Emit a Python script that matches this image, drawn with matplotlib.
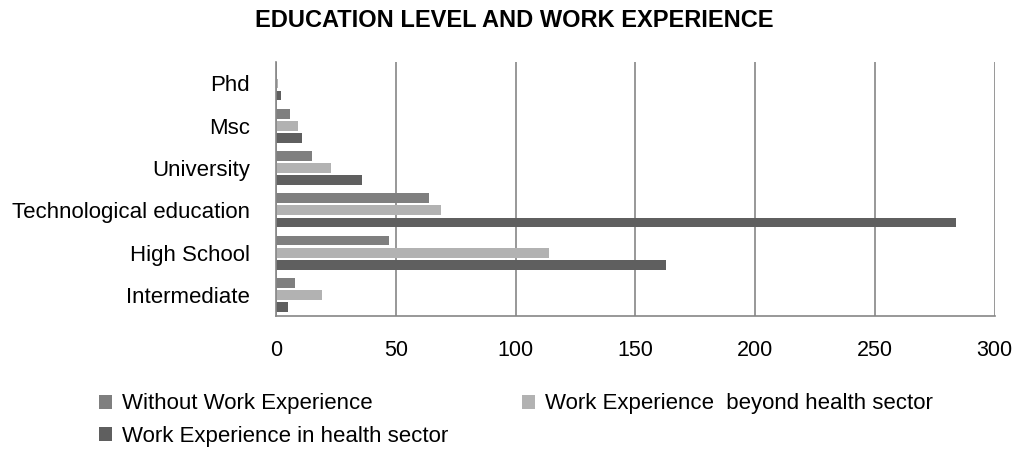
import numpy as np
import matplotlib.pyplot as plt

# education levels, listed bottom to top
levels = ["Intermediate", "High School", "Technological education", "University", "Msc", "Phd"]

without_exp = [8, 47, 64, 15, 6, 0]
beyond_health = [19, 114, 69, 23, 9, 1]
in_health = [5, 163, 284, 36, 11, 2]

series_names = ["Without Work Experience",
                "Work Experience  beyond health sector",
                "Work Experience in health sector"]
colors = ["#7f7f7f", "#b2b2b2", "#5f5f5f"]

plt.rcParams["font.family"] = ["Liberation Sans", "DejaVu Sans"]

fig = plt.figure(figsize=(10.28, 4.51), dpi=100)
ax = fig.add_axes([0.2685, 0.299, 0.699, 0.563])

y = np.arange(len(levels))
step = 0.285
bars = []
for offset, vals, c, name in zip([step, 0, -step], [without_exp, beyond_health, in_health], colors, series_names):
    bars.append(ax.barh(y + offset, vals, height=0.23, color=c, label=name))

ax.set_xlim(0, 300)
ax.set_ylim(-0.5, len(levels) - 0.5)
ax.set_xticks(np.arange(0, 301, 50))
ax.set_yticks(y)
ax.set_yticklabels(levels)
ax.tick_params(axis="both", length=0, labelsize=15.5, colors="black")
ax.tick_params(axis="y", labelsize=16)
ax.tick_params(axis="x", pad=17)
ax.tick_params(axis="y", pad=19)
ax.grid(axis="x", color="#868686", linewidth=1.2)
ax.set_axisbelow(True)
for side in ["top", "right"]:
    ax.spines[side].set_visible(False)
for side in ["left", "bottom"]:
    ax.spines[side].set_color("#868686")
    ax.spines[side].set_linewidth(1.2)

fig.text(0.5, 0.955, "EDUCATION LEVEL AND WORK EXPERIENCE", ha="center", va="center",
         fontsize=17, fontweight="bold")

# row-wise order: without / beyond on the first row, in-health below
fig.legend(handles=[bars[0], bars[2], bars[1]], loc="upper left",
           bbox_to_anchor=(0.077, 0.172), ncol=2,
           frameon=False, fontsize=16, handlelength=0.6, handleheight=0.6,
           handletextpad=0.45, columnspacing=3.3, labelspacing=0.5)

fig.savefig("out.png", dpi=100)
